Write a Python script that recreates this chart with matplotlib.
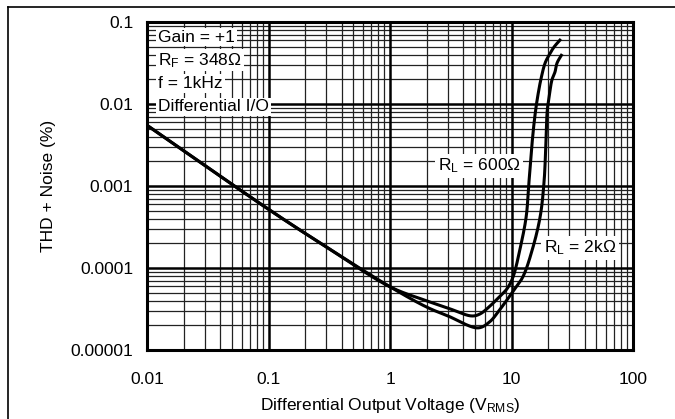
import numpy as np
import matplotlib
matplotlib.use("Agg")
import matplotlib.pyplot as plt
from matplotlib.lines import Line2D
from matplotlib.ticker import FixedLocator, NullFormatter

plt.rcParams['font.family'] = ['Liberation Sans', 'DejaVu Sans']
plt.rcParams['mathtext.fontset'] = 'custom'
plt.rcParams['mathtext.rm'] = 'Liberation Sans'
plt.rcParams['mathtext.it'] = 'Liberation Sans:italic'

# data
vout_600 = [0.01, 0.1, 0.3, 1.0, 2.0, 3.0, 4.7, 5.5, 6.6, 8.0, 9.2, 10.3, 11.7, 13.2, 13.9, 14.6, 15.2,
            15.8, 16.4, 17.4, 18.9, 20.4, 22.4, 25.5]
thd_600 = [0.0055, 0.00052, 0.00018, 5.9e-5, 3.98e-5, 3.24e-5, 2.6e-5, 2.75e-5, 3.4e-5, 4.5e-5, 5.6e-5,
           7.8e-5, 1.66e-4, 4.2e-4, 1.09e-3, 2.75e-3, 5.2e-3, 8.45e-3, 0.0122, 0.0196, 0.0316, 0.0396,
           0.0496, 0.062]
vout_2k = [0.01, 0.1, 0.3, 1.0, 2.0, 3.0, 5.3, 6.6, 8.0, 10.3, 12.4, 14.8, 17.2, 18.5, 19.1, 19.4, 19.7,
           20.4, 21.5, 22.8, 23.7, 26.1]
thd_2k = [0.0055, 0.00052, 0.00018, 5.9e-5, 3.34e-5, 2.6e-5, 1.86e-5, 2.2e-5, 3.1e-5, 5.2e-5, 7.8e-5,
          1.66e-4, 4.2e-4, 1.09e-3, 2.75e-3, 5.5e-3, 8.45e-3, 0.0122, 0.0196, 0.0246, 0.0316, 0.0407]

xticks = [0.01, 0.1, 1, 10, 100]
xtick_labels = ['0.01', '0.1', '1', '10', '100']
yticks = [0.00001, 0.0001, 0.001, 0.01, 0.1]
ytick_labels = ['0.00001', '0.0001', '0.001', '0.01', '0.1']
conditions = ['Gain = +1', r'R$_{\rm F}$ = 348Ω', 'f = 1kHz', 'Differential I/O']


def catmull_rom_loglog(x, y, n=40):
    # centripetal catmull-rom through the points, in decades (scaled like the plot)
    p = np.column_stack([np.log10(x) * 121.5, -np.log10(y) * 82.0])
    p = np.vstack([2 * p[0] - p[1], p, 2 * p[-1] - p[-2]])
    out = []
    for i in range(1, len(p) - 2):
        p0, p1, p2, p3 = p[i - 1], p[i], p[i + 1], p[i + 2]
        t0 = 0.0
        t1 = t0 + np.linalg.norm(p1 - p0) ** 0.5
        t2 = t1 + np.linalg.norm(p2 - p1) ** 0.5
        t3 = t2 + np.linalg.norm(p3 - p2) ** 0.5
        t = np.linspace(t1, t2, n)[:, None]
        a1 = (t1 - t) / (t1 - t0) * p0 + (t - t0) / (t1 - t0) * p1
        a2 = (t2 - t) / (t2 - t1) * p1 + (t - t1) / (t2 - t1) * p2
        a3 = (t3 - t) / (t3 - t2) * p2 + (t - t2) / (t3 - t2) * p3
        b1 = (t2 - t) / (t2 - t0) * a1 + (t - t0) / (t2 - t0) * a2
        b2 = (t3 - t) / (t3 - t1) * a2 + (t - t1) / (t3 - t1) * a3
        c = (t2 - t) / (t2 - t1) * b1 + (t - t1) / (t2 - t1) * b2
        out.append(c)
    c = np.vstack(out)
    return 10 ** (c[:, 0] / 121.5), 10 ** (-c[:, 1] / 82.0)


fig = plt.figure(figsize=(6.75, 4.19), dpi=100)
ax = fig.add_axes([0.2178, 0.1647, 0.72, 0.7828])
ax.set_xscale('log')
ax.set_yscale('log')
ax.set_xlim(0.01, 100)
ax.set_ylim(0.00001, 0.1)

# grid
for d in [0.01, 0.1, 1, 10]:
    for m in range(2, 10):
        ax.axvline(d * m, color='#222222', lw=0.9, zorder=1)
for d in [0.00001, 0.0001, 0.001, 0.01]:
    for m in range(2, 10):
        ax.axhline(d * m, color='#222222', lw=0.9, zorder=1)
for v in xticks[1:-1]:
    ax.axvline(v, color='black', lw=1.8, zorder=1)
for v in yticks[1:-1]:
    ax.axhline(v, color='black', lw=1.8, zorder=1)

for s in ax.spines.values():
    s.set_linewidth(2.2)

x1, y1 = catmull_rom_loglog(vout_600, thd_600)
x2, y2 = catmull_rom_loglog(vout_2k, thd_2k)
ax.plot(x1, y1, color='black', lw=2.2, zorder=3, solid_capstyle='butt')
ax.plot(x2, y2, color='black', lw=2.2, zorder=3, solid_capstyle='butt')

ax.xaxis.set_major_locator(FixedLocator(xticks))
ax.set_xticklabels(xtick_labels)
ax.yaxis.set_major_locator(FixedLocator(yticks))
ax.set_yticklabels(ytick_labels)
ax.xaxis.set_minor_formatter(NullFormatter())
ax.yaxis.set_minor_formatter(NullFormatter())
ax.tick_params(which='both', length=0, labelsize=12.5, colors='black', pad=10)
ax.tick_params(axis='x', pad=16)

ax.set_xlabel(r'Differential Output Voltage (V$_{\rm RMS}$)', fontsize=12.5, labelpad=6)
ax.set_ylabel('THD + Noise (%)', fontsize=12.5, labelpad=10)

box = dict(facecolor='white', edgecolor='none', pad=1.2)
for i, txt in enumerate(conditions):
    ax.text(0.023, 0.954 - i * 0.071, txt, transform=ax.transAxes, fontsize=12.5,
            va='center', ha='left', bbox=box, zorder=4)

ax.text(5.4, 0.00175, r'R$_{\rm L}$ = 600Ω', fontsize=12.5, ha='center', va='center',
        bbox=dict(facecolor='white', edgecolor='none', pad=2), zorder=4)
ax.text(36.6, 0.000175, r'R$_{\rm L}$ = 2kΩ', fontsize=12.5, ha='center', va='center',
        bbox=dict(facecolor='white', edgecolor='none', pad=2), zorder=4)

# page frame lines (top and left)
fig.add_artist(Line2D([8 / 675, 1], [1 - 7 / 419, 1 - 7 / 419], color='black', lw=1.2))
fig.add_artist(Line2D([8 / 675, 8 / 675], [0, 1 - 7 / 419], color='black', lw=1.2))

fig.savefig('out.png', dpi=100)
